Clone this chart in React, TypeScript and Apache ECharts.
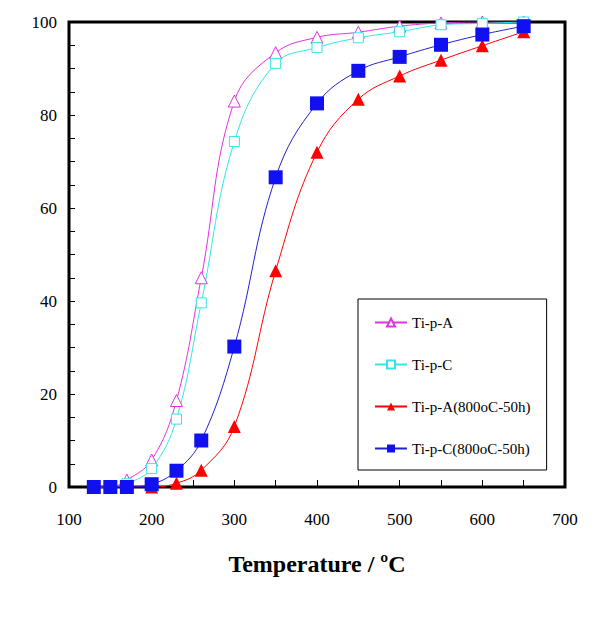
import React, { useEffect, useRef } from "react";
import * as echarts from "echarts";

const temps = [130, 150, 170, 200, 230, 260, 300, 350, 400, 450, 500, 550, 600, 650];
const tiPA = [0, 0, 1.5, 5.8, 18.6, 45, 83, 93.4, 96.7, 97.8, 99.1, 99.8, 100, 100];
const tiPC = [0, 0, 0.7, 4.0, 14.6, 39.6, 74.3, 91.1, 94.5, 96.6, 97.9, 99.4, 99.7, 100];
const tiPA800 = [0, 0, 0, 0, 0.8, 3.6, 13, 46.5, 72, 83.4, 88.4, 91.8, 94.9, 97.9];
const tiPC800 = [0, 0, 0, 0.6, 3.5, 10, 30.2, 66.6, 82.5, 89.5, 92.5, 95.1, 97.3, 99.1];
const seriesNames = ["Ti-p-A", "Ti-p-C", "Ti-p-A(800oC-50h)", "Ti-p-C(800oC-50h)"];

const FONT = "Liberation Serif";

const pairs = (ys: number[]) => temps.map((t, i) => [t, ys[i]]);

export default function App() {
  const ref = useRef<HTMLDivElement>(null);
  useEffect(() => {
    if (!ref.current) return;
    const chart = echarts.init(ref.current, undefined, { renderer: "svg" });
    const baseSeries = {
      type: "line",
      smooth: 0.4,
      z: 2,
    };
    chart.setOption({
      animation: false,
      backgroundColor: "#fff",
      textStyle: { fontFamily: FONT, color: "#000" },
      grid: {
        left: 69,
        right: 30,
        top: 22,
        bottom: 137,
        show: true,
        borderColor: "#000",
        borderWidth: 3,
      },
      legend: {
        orient: "vertical",
        left: 358,
        top: 299,
        padding: [16, 16, 14, 16],
        itemGap: 27,
        itemWidth: 32,
        itemHeight: 10,
        borderColor: "#000",
        borderWidth: 1,
        backgroundColor: "#fff",
        textStyle: { fontFamily: FONT, fontSize: 15, color: "#000" },
        data: seriesNames,
      },
      xAxis: {
        type: "value",
        min: 100,
        max: 700,
        interval: 100,
        name: "Temperature / ºC",
        nameLocation: "middle",
        nameGap: 65,
        nameTextStyle: { fontFamily: FONT, fontSize: 24, fontWeight: "bold", color: "#000" },
        axisLine: { show: false },
        axisTick: { show: true, inside: true, length: 7, lineStyle: { color: "#000", width: 1 } },
        minorTick: { show: true, splitNumber: 2, length: 7, lineStyle: { color: "#000", width: 1 } },
        axisLabel: { fontFamily: FONT, fontSize: 17, color: "#000", margin: 24 },
        splitLine: { show: false },
      },
      yAxis: {
        type: "value",
        min: 0,
        max: 100,
        interval: 20,
        axisLine: { show: false },
        axisTick: { show: true, inside: true, length: 6, lineStyle: { color: "#000", width: 1 } },
        minorTick: { show: true, splitNumber: 4, length: 6, lineStyle: { color: "#000", width: 1 } },
        axisLabel: { fontFamily: FONT, fontSize: 17, color: "#000", margin: 12 },
        splitLine: { show: false },
      },
      series: [
        {
          ...baseSeries,
          name: seriesNames[0],
          data: pairs(tiPA),
          symbol: "triangle",
          symbolSize: 12,
          lineStyle: { color: "#E033E0", width: 1 },
          itemStyle: { color: "#fff", borderColor: "#E033E0", borderWidth: 1 },
        },
        {
          ...baseSeries,
          name: seriesNames[1],
          data: pairs(tiPC),
          symbol: "rect",
          symbolSize: 10,
          lineStyle: { color: "#33E6E6", width: 1 },
          itemStyle: { color: "#fff", borderColor: "#33E6E6", borderWidth: 1 },
        },
        {
          ...baseSeries,
          name: seriesNames[2],
          data: pairs(tiPA800),
          symbol: "triangle",
          symbolSize: 13,
          lineStyle: { color: "#FF0000", width: 1 },
          itemStyle: { color: "#FF0000" },
        },
        {
          ...baseSeries,
          name: seriesNames[3],
          data: pairs(tiPC800),
          symbol: "rect",
          symbolSize: 14,
          lineStyle: { color: "#2020D0", width: 1 },
          itemStyle: { color: "#1010F0" },
        },
      ],
    });
    return () => chart.dispose();
  }, []);
  return (
    <div
      ref={ref}
      style={{ position: "fixed", left: 0, top: 0, width: 595, height: 624, background: "#fff" }}
    />
  );
}
